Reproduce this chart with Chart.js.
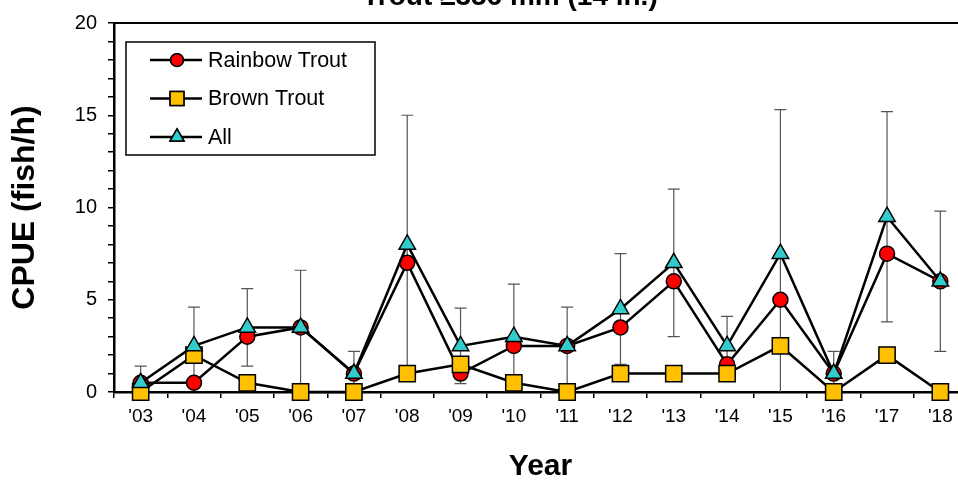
<!DOCTYPE html>
<html>
<head>
<meta charset="utf-8">
<title>Trout CPUE</title>
<script src="https://cdn.jsdelivr.net/npm/chart.js@4.4.1/dist/chart.umd.min.js"></script>
<style>
  html, body { margin: 0; padding: 0; background: #fff; overflow: hidden; }
  #wrap { width: 980px; height: 481px; }
</style>
</head>
<body>
<div id="wrap"><canvas id="chart" width="980" height="481"></canvas></div>
<script>
const years = ["'03", "'04", "'05", "'06", "'07", "'08", "'09", "'10", "'11", "'12", "'13", "'14", "'15", "'16", "'17", "'18"];
const rainbow = [0.5, 0.5, 3, 3.5, 1, 7, 1, 2.5, 2.5, 3.5, 6, 1.5, 5, 1, 7.5, 6];
const brown = [0, 2, 0.5, 0, 0, 1, 1.5, 0.5, 0, 1, 1, 1, 2.5, 0, 2, 0];
const allTrout = [0.5, 2.5, 3.5, 3.5, 1, 8, 2.5, 3, 2.5, 4.5, 7, 2.5, 7.5, 1, 9.5, 6];
const allErr = [0.9, 2.1, 2.1, 3.1, 1.2, 7, 2.05, 2.85, 2.1, 3, 4, 1.6, 7.8, 1.2, 5.7, 3.8];
const yTicks = [0, 5, 10, 15, 20];

const FONT = "'Liberation Sans', Arial, sans-serif";

const series = [
  { label: 'Rainbow Trout', data: rainbow, style: 'circle', radius: 7.5, fill: '#FF0000', order: 3 },
  { label: 'Brown Trout', data: brown, style: 'rect', radius: 11.5, fill: '#FFC000', order: 2 },
  { label: 'All', data: allTrout, style: 'triangle', radius: 9.5, fill: '#33CCCC', order: 1 }
];

// vertical error bars on the "All" series, drawn under the lines
const errorBars = {
  id: 'errorBars',
  beforeDatasetsDraw(chart) {
    const { ctx, chartArea, scales: { x, y } } = chart;
    ctx.save();
    ctx.beginPath();
    ctx.rect(chartArea.left, chartArea.top, chartArea.right - chartArea.left, chartArea.bottom - chartArea.top);
    ctx.clip();
    ctx.lineWidth = 1.2;
    ctx.strokeStyle = '#555';
    allTrout.forEach((v, i) => {
      const px = x.getPixelForValue(i);
      const hi = v + allErr[i];
      const lo = v - allErr[i];
      const yHi = y.getPixelForValue(hi);
      const yLo = y.getPixelForValue(Math.max(0, lo));
      ctx.beginPath();
      ctx.moveTo(px, yHi);
      ctx.lineTo(px, yLo);
      ctx.moveTo(px - 6, yHi);
      ctx.lineTo(px + 6, yHi);
      if (lo >= 0) {
        ctx.moveTo(px - 6, yLo);
        ctx.lineTo(px + 6, yLo);
      }
      ctx.stroke();
    });
    ctx.restore();
  }
};

// top frame line, title strip and the boxed legend
const decorations = {
  id: 'decorations',
  afterDraw(chart) {
    const { ctx, chartArea } = chart;
    ctx.save();
    ctx.strokeStyle = '#000';
    ctx.lineWidth = 2;
    ctx.beginPath();
    ctx.moveTo(chartArea.left, chartArea.top);
    ctx.lineTo(chart.width, chartArea.top);
    ctx.stroke();

    ctx.fillStyle = '#000';
    ctx.font = 'bold 28px ' + FONT;
    ctx.textAlign = 'center';
    ctx.textBaseline = 'alphabetic';
    ctx.fillText('Trout \u2265356 mm (14 in.)', 510, 5);

    const bx = chartArea.left + 12, by = chartArea.top + 19;
    ctx.lineWidth = 1.5;
    ctx.strokeRect(bx, by, 249, 113);
    series.forEach((s, i) => {
      const ry = by + 18 + i * 38.5;
      ctx.lineWidth = 2.5;
      ctx.strokeStyle = '#000';
      ctx.beginPath();
      ctx.moveTo(bx + 24, ry);
      ctx.lineTo(bx + 76, ry);
      ctx.stroke();
      ctx.fillStyle = s.fill;
      ctx.lineWidth = 1.5;
      Chart.helpers.drawPoint(ctx, { pointStyle: s.style, radius: s.radius * 0.85, borderWidth: 1.5 }, bx + 51, ry);
      ctx.fill();
      ctx.stroke();
      ctx.fillStyle = '#000';
      ctx.font = '21.5px ' + FONT;
      ctx.textAlign = 'left';
      ctx.textBaseline = 'middle';
      ctx.fillText(s.label, bx + 82, ry + 1);
    });
    ctx.restore();
  }
};

new Chart(document.getElementById('chart'), {
  type: 'line',
  data: {
    labels: years,
    datasets: series.map(s => ({
      label: s.label,
      data: s.data,
      order: s.order,
      borderColor: '#000',
      borderWidth: 2.5,
      pointStyle: s.style,
      pointRadius: s.radius,
      pointHoverRadius: s.radius,
      pointBackgroundColor: s.fill,
      pointBorderColor: '#000',
      pointBorderWidth: 1.5,
      tension: 0,
      clip: false
    }))
  },
  options: {
    responsive: false,
    devicePixelRatio: 1,
    animation: false,
    events: [],
    layout: { padding: { top: 21, right: 10, left: 0, bottom: 0 } },
    plugins: { legend: { display: false }, tooltip: { enabled: false } },
    scales: {
      x: {
        offset: true,
        afterFit(scale) { scale.height = 89; },
        grid: { offset: true, drawOnChartArea: false, drawTicks: true, tickLength: 6, color: '#000', lineWidth: 1.5 },
        border: { display: true, color: '#000', width: 2.5 },
        ticks: { color: '#000', font: { family: FONT, size: 19 }, padding: 7, maxRotation: 0, autoSkip: false },
        title: { display: true, text: 'Year', color: '#000', font: { family: FONT, size: 30, weight: 'bold', lineHeight: 1 }, padding: { top: 0, bottom: -1 } }
      },
      y: {
        min: 0,
        max: 20,
        afterFit(scale) { scale.width = 114; },
        afterBuildTicks(scale) {
          const t = [];
          for (let v = 0; v <= 20; v++) t.push({ value: v });
          scale.ticks = t;
        },
        grid: { drawOnChartArea: false, drawTicks: true, tickLength: 6, color: '#000', lineWidth: 1.5 },
        border: { display: true, color: '#000', width: 2.5 },
        ticks: {
          color: '#000',
          font: { family: FONT, size: 20 },
          padding: 11,
          autoSkip: false,
          callback: v => yTicks.includes(v) ? String(v) : ''
        },
        title: { display: true, text: 'CPUE (fish/h)', color: '#000', font: { family: FONT, size: 32, weight: 'bold', lineHeight: 1 }, padding: { top: 9, bottom: 0 } }
      }
    }
  },
  plugins: [errorBars, decorations]
});
</script>
</body>
</html>
